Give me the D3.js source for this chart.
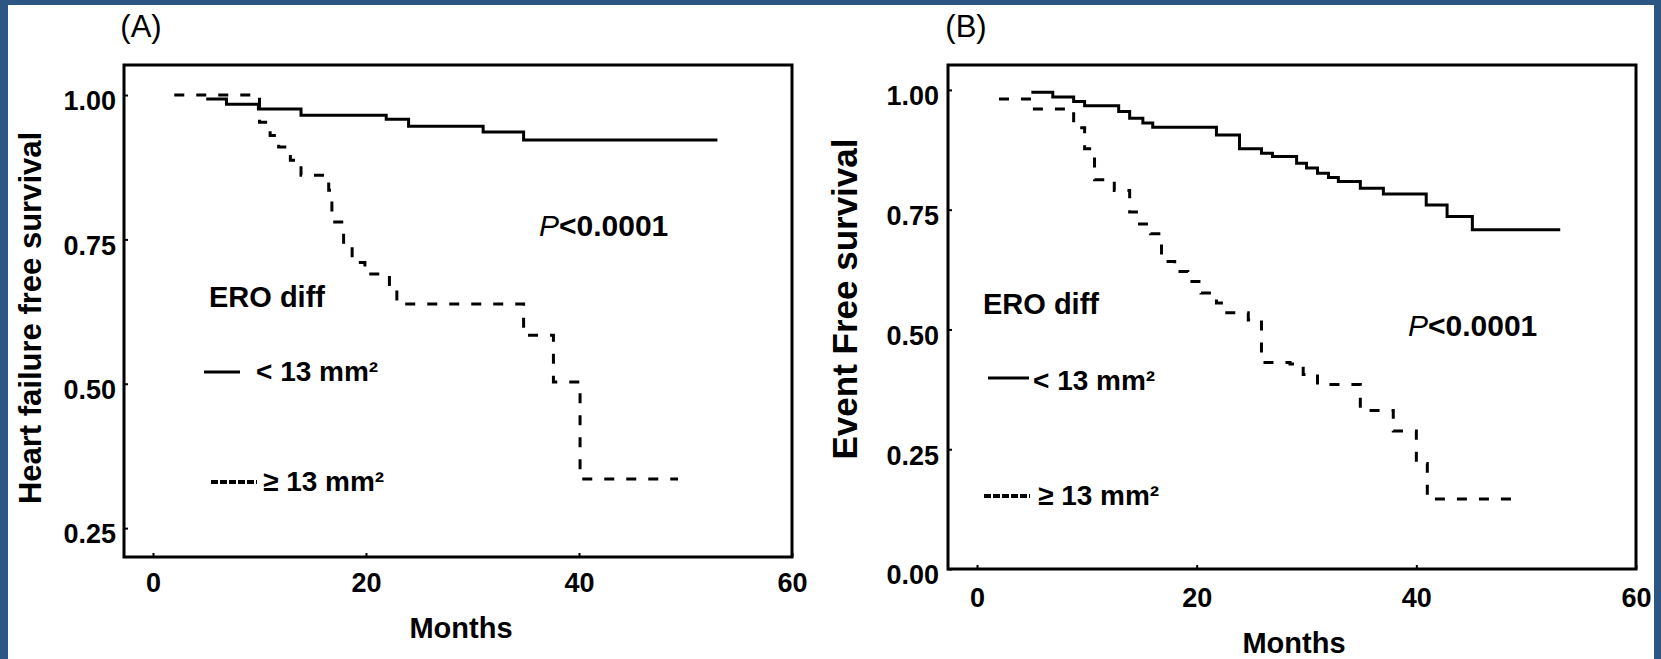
<!DOCTYPE html>
<html>
<head>
<meta charset="utf-8">
<script src="https://cdn.jsdelivr.net/npm/d3@7"></script>
<style>
  body { margin: 0; background: #2c5785; }
  svg { display: block; }
  text { font-family: "Liberation Sans", Arial, Helvetica, sans-serif; fill: #000; }
</style>
</head>
<body>
<svg id="chart" width="1661" height="659"></svg>
<script>
// ---- data ----
const monthTicks = [0, 20, 40, 60];
const survTicksA = [0.25, 0.5, 0.75, 1.0];
const survTicksB = [0, 0.25, 0.5, 0.75, 1.0];

// (A) heart failure free survival, ERO diff < 13 mm2
const aSmallTime = [5, 6.9, 9.9, 13.9, 21.9, 24, 31, 34.8, 53];
const aSmallSurv = [0.993, 0.984, 0.976, 0.965, 0.958, 0.946, 0.936, 0.922, 0.922];
// (A) ERO diff >= 13 mm2
const aLargeTime = [2, 10.0, 11.0, 11.8, 12.9, 13.9, 16.5, 16.8, 17.9, 18.7, 19.9, 22.2, 22.9, 34.8, 37.6, 40.1, 49.3];
const aLargeSurv = [1.0, 0.953, 0.93, 0.91, 0.887, 0.861, 0.835, 0.78, 0.737, 0.71, 0.69, 0.662, 0.638, 0.584, 0.503, 0.335, 0.335];

// (B) event free survival, ERO diff < 13 mm2
const bSmallTime = [4.95, 6.9, 8.8, 9.8, 12.9, 13.9, 15.1, 16.0, 21.8, 23.9, 25.9, 26.9, 29.1, 30.0, 31.0, 32.0, 32.9, 34.9, 37.0, 40.9, 42.8, 45.1, 53.1];
const bSmallSurv = [0.995, 0.985, 0.976, 0.967, 0.955, 0.941, 0.931, 0.922, 0.906, 0.877, 0.868, 0.861, 0.847, 0.837, 0.826, 0.817, 0.809, 0.795, 0.783, 0.760, 0.736, 0.708, 0.708];
// (B) ERO diff >= 13 mm2
const bLargeTime = [2.0, 5.0, 8.8, 9.8, 10.7, 12.5, 13.9, 14.8, 15.8, 16.8, 18.0, 19.2, 20.4, 21.8, 22.6, 24.7, 25.9, 28.5, 29.7, 31.0, 34.9, 37.9, 40.0, 41.0, 48.9];
const bLargeSurv = [0.981, 0.96, 0.921, 0.877, 0.8125, 0.79, 0.745, 0.72, 0.70, 0.642, 0.621, 0.60, 0.576, 0.555, 0.535, 0.52, 0.431, 0.428, 0.406, 0.385, 0.331, 0.288, 0.22, 0.146, 0.146];

const svg = d3.select("#chart");

// blue frame around a white page
svg.append("rect").attr("width", 1661).attr("height", 659).attr("fill", "#2c5785");
svg.append("rect").attr("x", 8).attr("y", 5).attr("width", 1646).attr("height", 654).attr("fill", "#fff");

function zip(t, s) {
  return t.map(function(d, i) { return [d, s[i]]; });
}

function drawPanel(p) {
  var x = d3.scaleLinear().domain([p.xMin, 60]).range([p.left, p.right]);
  var y = d3.scaleLinear().domain([p.yMin, p.yMax]).range([p.bottom, p.top]);
  var g = svg.append("g");

  // y axis ticks + labels
  var ya = g.append("g")
    .attr("transform", "translate(" + p.left + ",0)")
    .call(d3.axisLeft(y).tickValues(p.yTicks).tickFormat(d3.format(".2f")).tickSize(-4).tickPadding(p.yPad));
  // x axis ticks + labels
  var xa = g.append("g")
    .attr("transform", "translate(0," + p.bottom + ")")
    .call(d3.axisBottom(x).tickValues(monthTicks).tickSize(-4).tickPadding(p.xPad));

  [ya, xa].forEach(function(a) {
    a.select(".domain").remove();
    a.selectAll("line").attr("stroke", "#000").attr("stroke-width", 2);
    a.selectAll("text")
      .attr("fill", "#000")
      .style("font-family", '"Liberation Sans", Arial, sans-serif')
      .style("font-size", "27px")
      .style("font-weight", "bold");
  });
  ya.selectAll("text").attr("dy", "0.55em");

  // frame
  g.append("rect")
    .attr("x", p.left).attr("y", p.top)
    .attr("width", p.right - p.left).attr("height", p.bottom - p.top)
    .attr("fill", "none").attr("stroke", "#000").attr("stroke-width", 3);

  var line = d3.line()
    .x(function(d) { return x(d[0]); })
    .y(function(d) { return y(d[1]); })
    .curve(d3.curveStepAfter);

  g.append("path")
    .datum(zip(p.smallT, p.smallS))
    .attr("d", line)
    .attr("fill", "none").attr("stroke", "#000").attr("stroke-width", 3);

  g.append("path")
    .datum(zip(p.largeT, p.largeS))
    .attr("d", line)
    .attr("fill", "none").attr("stroke", "#000").attr("stroke-width", 3)
    .attr("stroke-dasharray", "10,12");

  // panel letter
  g.append("text").attr("x", p.letterX).attr("y", 37)
    .attr("text-anchor", "middle").style("font-size", "31px")
    .text(p.letter);

  // axis titles
  g.append("text").attr("x", p.monthsX).attr("y", p.monthsY)
    .attr("text-anchor", "middle").style("font-size", "29px").style("font-weight", "bold")
    .text("Months");
  g.append("text")
    .attr("transform", "translate(" + p.titleX + "," + p.titleY + ") rotate(-90)")
    .attr("text-anchor", "middle").style("font-size", p.titleSize + "px").style("font-weight", "bold")
    .text(p.title);

  // legend
  g.append("text").attr("x", p.legX).attr("y", p.eroY)
    .style("font-size", "29px").style("font-weight", "bold").text("ERO diff");
  g.append("line")
    .attr("x1", p.smallLine[0]).attr("x2", p.smallLine[1])
    .attr("y1", p.smallLine[2]).attr("y2", p.smallLine[2])
    .attr("stroke", "#000").attr("stroke-width", 3);
  g.append("text").attr("x", p.smallText[0]).attr("y", p.smallText[1])
    .style("font-size", "28px").style("font-weight", "bold").text("< 13 mm²");
  g.append("line")
    .attr("x1", p.largeLine[0]).attr("x2", p.largeLine[1])
    .attr("y1", p.largeLine[2]).attr("y2", p.largeLine[2])
    .attr("stroke", "#000").attr("stroke-width", 4).attr("stroke-dasharray", "7,2");
  g.append("text").attr("x", p.largeText[0]).attr("y", p.largeText[1])
    .style("font-size", "28px").style("font-weight", "bold").text("≥ 13 mm²");

  // p value
  var pv = g.append("text").attr("x", p.pX).attr("y", p.pY).style("font-size", "30px");
  pv.append("tspan").style("font-style", "italic").text("P");
  pv.append("tspan").style("font-weight", "bold").text("<0.0001");
}

drawPanel({
  letter: "(A)", letterX: 141,
  left: 124, right: 792, top: 65, bottom: 557,
  xMin: -2.72, yMin: 0.2, yMax: 1.052,
  yTicks: survTicksA, yPad: 8, xPad: 16,
  smallT: aSmallTime, smallS: aSmallSurv,
  largeT: aLargeTime, largeS: aLargeSurv,
  monthsX: 461, monthsY: 638,
  title: "Heart failure free survival", titleX: 41, titleY: 318, titleSize: 31,
  legX: 209, eroY: 307,
  smallLine: [204, 240, 372], smallText: [256, 381],
  largeLine: [211, 257, 482], largeText: [263, 491],
  pX: 539, pY: 236
});

drawPanel({
  letter: "(B)", letterX: 966,
  left: 948, right: 1636, top: 65, bottom: 569,
  xMin: -2.64, yMin: 0, yMax: 1.052,
  yTicks: survTicksB, yPad: 9, xPad: 19,
  smallT: bSmallTime, smallS: bSmallSurv,
  largeT: bLargeTime, largeS: bLargeSurv,
  monthsX: 1294, monthsY: 653,
  title: "Event Free survival", titleX: 857, titleY: 299, titleSize: 35,
  legX: 983, eroY: 314,
  smallLine: [988, 1029, 378], smallText: [1033, 390],
  largeLine: [984, 1030, 496], largeText: [1038, 505],
  pX: 1408, pY: 336
});
</script>
</body>
</html>
